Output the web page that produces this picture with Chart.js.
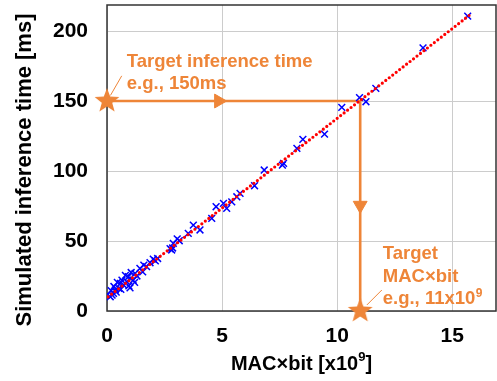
<!DOCTYPE html>
<html>
<head>
<meta charset="utf-8">
<script src="https://cdn.jsdelivr.net/npm/chart.js@4.4.1/dist/chart.umd.min.js"></script>
<style>
  body{margin:0;background:#fff;}
  canvas{display:block;}
</style>
</head>
<body>
<canvas id="mycanvas" width="497" height="381"></canvas>
<script>
// measured models: MAC x bit [x10^9] vs simulated time [ms]
var macBit=[15.67,13.73,11.68,10.97,11.25,10.20,9.45,8.51,8.25,7.67,7.62,6.83,6.41,5.78,5.64,5.42,5.06,5.20,4.74,4.55,
  4.04,3.75,3.53,3.14,2.88,2.81,2.85,2.74,2.10,2.01,1.87,1.72,1.60,1.43,1.22,1.30,1.14,1.05,0.93,0.86,
  0.80,0.72,0.65,0.58,0.51,0.45,0.36,0.40,0.30,0.28,0.22,0.18,0.14,0.60,0.95,1.20,1.55,2.20,3.05,1.00]
var simTime=[210.7,188,159,152.4,149.5,145.5,126.4,122.6,116.2,105.5,104.2,100.7,89.5,84.0,81.6,78.0,76.9,73.3,74.5,66.2,
  57.9,61.4,55.5,50.2,48.3,43.6,45.0,44.5,35.8,37.0,34.5,31.7,32.8,30.5,26.9,25.0,22.1,27.5,24.5,20.9,
  25.5,18.6,22.0,19.7,16.2,20.5,15.0,13.5,17.5,12.6,11.4,14.5,10.2,15.5,18.0,20.5,28.0,37.5,51.5,16.5]

// fitted line end points
var fitX=[0.05,15.8]
var fitY=[10.1,212]

// target path: 150ms -> 11 x10^9
var pathX=[0,11,11]
var pathY=[150,150,0]
var starX=[0,11]
var starY=[150,0]
var arrowX=[4.85,11]
var arrowY=[150,75.5]
var arrowRot=[90,180]

var xTicks=[0,5,10,15]
var yTicks=[0,50,100,150,200]

var orange="#EE8538"
var font="'Liberation Sans', Arial, sans-serif"

function pts(xs,ys){
    var out=[]
    for(var i=0;i<xs.length;i++) out.push({x:xs[i],y:ys[i]})
    return out
}

function makeStar(r,color){
    var c=document.createElement("canvas")
    c.width=c.height=2*r+2
    var g=c.getContext("2d")
    g.fillStyle=color
    g.beginPath()
    for(var i=0;i<10;i++){
        var rad=(i%2)?r*0.42:r
        var a=-Math.PI/2+i*Math.PI/5
        g.lineTo(r+1+rad*Math.cos(a),r+1+rad*Math.sin(a))
    }
    g.closePath()
    g.fill()
    return c
}
var starImg=makeStar(13,orange)

function noPad(s){
    s.paddingLeft=0; s.paddingRight=0; s.paddingTop=0; s.paddingBottom=0
}

//-----------------------------------------------------------------------------------------

var boxPlugin={
    id:"box",
    beforeDatasetsDraw:function(chart){
        var a=chart.chartArea, ctx=chart.ctx
        ctx.save()
        ctx.strokeStyle="#333"
        ctx.lineWidth=1.5
        ctx.strokeRect(a.left,a.top,a.right-a.left,a.bottom-a.top)
        ctx.restore()
    },
    afterDraw:function(chart){
        var ctx=chart.ctx, xs=chart.scales.x, ys=chart.scales.y
        ctx.save()
        // axis titles
        ctx.fillStyle="#000"
        ctx.font="bold 20px "+font
        ctx.textBaseline="middle"
        var t1="MAC\u00D7bit [x10", t2="9", t3="]"
        var w1=ctx.measureText(t1).width, w3=ctx.measureText(t3).width
        ctx.font="bold 13px "+font
        var w2=ctx.measureText(t2).width
        var cx=(chart.chartArea.left+chart.chartArea.right)/2
        var x0=cx-(w1+w2+w3)/2, ty=364
        ctx.font="bold 20px "+font
        ctx.textAlign="left"
        ctx.fillText(t1,x0,ty)
        ctx.font="bold 13px "+font
        ctx.fillText(t2,x0+w1,ty-7)
        ctx.font="bold 20px "+font
        ctx.fillText(t3,x0+w1+w2,ty)

        ctx.save()
        ctx.translate(25,170)
        ctx.rotate(-Math.PI/2)
        ctx.textAlign="center"
        ctx.font="bold 22px "+font
        ctx.fillText("Simulated inference time [ms]",0,0)
        ctx.restore()

        // annotations
        ctx.fillStyle=orange
        ctx.font="bold 18.5px "+font
        ctx.textBaseline="alphabetic"
        ctx.textAlign="left"
        var ax=xs.getPixelForValue(0.86)
        ctx.fillText("Target inference time",ax,ys.getPixelForValue(174.5))
        ctx.fillText("e.g., 150ms",ax,ys.getPixelForValue(158.5))

        var bx=xs.getPixelForValue(11.98)
        ctx.fillText("Target",bx,ys.getPixelForValue(37.5))
        ctx.fillText("MAC\u00D7bit",bx,ys.getPixelForValue(21))
        var by=ys.getPixelForValue(5)
        var s="e.g., 11x10"
        ctx.fillText(s,bx,by)
        var sw=ctx.measureText(s).width
        ctx.font="bold 12px "+font
        ctx.fillText("9",bx+sw+0.5,by-7)
        ctx.restore()
    }
}

function drawchart(){
    const canvas=document.getElementById("mycanvas")
    const ctx=canvas.getContext("2d")
    var chart=new Chart(ctx,{
        type:"scatter",
        data:{
            datasets:[
                {   // stars
                    data:pts(starX,starY),
                    pointStyle:starImg,
                    pointRadius:13,
                    clip:false,
                    order:0
                },
                {   // arrow heads
                    data:pts(arrowX,arrowY),
                    pointStyle:"triangle",
                    rotation:arrowRot,
                    pointRadius:8,
                    backgroundColor:orange,
                    borderColor:orange,
                    borderWidth:1,
                    order:1
                },
                {   // leader 1
                    data:pts([0.15,0.64],[154,168]),
                    showLine:true,
                    borderColor:orange,
                    borderWidth:1,
                    pointRadius:0,
                    order:1
                },
                {   // leader 2
                    data:pts([11.29,11.94],[4.3,15]),
                    showLine:true,
                    borderColor:orange,
                    borderWidth:1,
                    pointRadius:0,
                    order:1
                },
                {   // fit
                    data:pts(fitX,fitY),
                    showLine:true,
                    borderColor:"#FF0000",
                    borderWidth:3.2,
                    borderDash:[0,4.4],
                    borderCapStyle:"round",
                    pointRadius:0,
                    order:2
                },
                {   // measured
                    data:pts(macBit,simTime),
                    pointStyle:"crossRot",
                    pointRadius:4.8,
                    borderColor:"#0000FF",
                    borderWidth:1.5,
                    backgroundColor:"#0000FF",
                    order:3
                },
                {   // target path
                    data:pts(pathX,pathY),
                    showLine:true,
                    borderColor:orange,
                    borderWidth:2.6,
                    pointRadius:0,
                    clip:false,
                    order:4
                }
            ]
        },
        options:{
            responsive:false,
            animation:false,
            events:[],
            layout:{autoPadding:false,padding:{top:5,right:1,left:0,bottom:0}},
            plugins:{legend:{display:false},tooltip:{enabled:false}},
            scales:{
                x:{
                    type:"linear",
                    min:0,max:16.9,
                    afterFit:function(s){s.height=70; noPad(s)},
                    afterBuildTicks:function(s){s.ticks=xTicks.map(function(v){return {value:v}})},
                    grid:{color:"#cccccc",lineWidth:1,drawTicks:false},
                    border:{display:false},
                    ticks:{color:"#000",font:{family:font,size:21,weight:"bold"},padding:13,maxRotation:0}
                },
                y:{
                    type:"linear",
                    min:0,max:218.6,
                    afterFit:function(s){s.width=107; noPad(s)},
                    afterBuildTicks:function(s){s.ticks=yTicks.map(function(v){return {value:v}})},
                    grid:{color:"#cccccc",lineWidth:1,drawTicks:false},
                    border:{display:false},
                    ticks:{color:"#000",font:{family:font,size:21,weight:"bold"},padding:19}
                }
            }
        },
        plugins:[boxPlugin]
    })
}

drawchart()
</script>
</body>
</html>
